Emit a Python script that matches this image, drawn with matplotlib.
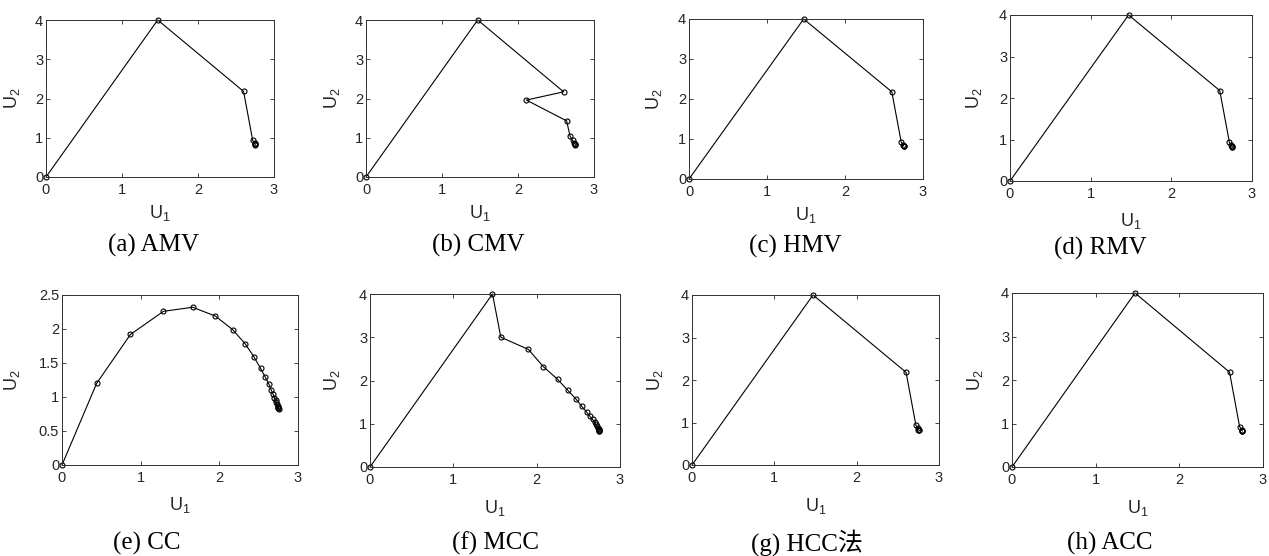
import matplotlib.pyplot as plt

plt.rcParams['font.family'] = ['Liberation Sans', 'DejaVu Sans']
plt.rcParams['mathtext.default'] = 'regular'

# shared trajectory (AMV, HMV, RMV, HCC, ACC)
u1_base = [0, 1.47, 2.60, 2.72, 2.745, 2.75, 2.752, 2.753]
u2_base = [0, 4.00, 2.18, 0.93, 0.86, 0.835, 0.830, 0.828]

# CMV
u1_cmv = [0, 1.47, 2.60, 2.11, 2.64, 2.685, 2.72, 2.74, 2.748, 2.752, 2.753]
u2_cmv = [0, 4.00, 2.17, 1.96, 1.43, 1.04, 0.93, 0.87, 0.845, 0.833, 0.828]

# CC
u1_cc = [0, 0.44, 0.87, 1.29, 1.66, 1.95, 2.17, 2.33, 2.44, 2.525, 2.585, 2.63,
         2.66, 2.685, 2.70, 2.715, 2.725, 2.735, 2.74, 2.745, 2.75, 2.752, 2.753]
u2_cc = [0, 1.20, 1.92, 2.26, 2.32, 2.19, 1.99, 1.78, 1.59, 1.42, 1.29, 1.19,
         1.10, 1.04, 0.99, 0.95, 0.92, 0.89, 0.87, 0.855, 0.84, 0.833, 0.828]

# MCC
u1_mcc = [0, 1.47, 1.57, 1.90, 2.08, 2.25, 2.37, 2.47, 2.54, 2.60, 2.64, 2.67,
          2.695, 2.71, 2.725, 2.735, 2.742, 2.747, 2.75, 2.752, 2.753]
u2_mcc = [0, 4.00, 3.00, 2.72, 2.32, 2.03, 1.78, 1.575, 1.405, 1.27, 1.17, 1.10,
          1.04, 0.99, 0.95, 0.91, 0.88, 0.86, 0.845, 0.835, 0.828]

captions = ['(a) AMV', '(b) CMV', '(c) HMV', '(d) RMV',
            '(e) CC', '(f) MCC', '(g) HCC法', '(h) ACC']
series = [(u1_base, u2_base), (u1_cmv, u2_cmv), (u1_base, u2_base), (u1_base, u2_base),
          (u1_cc, u2_cc), (u1_mcc, u2_mcc), (u1_base, u2_base), (u1_base, u2_base)]

W, H = 1269, 556
# axes boxes in pixels: left, right, top, bottom
boxes = [(46, 274, 20, 177), (366, 594, 20, 177), (689, 923, 19, 179), (1010, 1252, 15, 181),
         (62, 298, 295, 465), (370, 620, 294, 467), (692, 939, 295, 465), (1012, 1263, 293, 467)]
# label positions in pixels: ylabel right edge x, xlabel top y
ylab_x = [22, 342, 664, 984, 22, 342, 665, 985]
xlab_y = [203, 203, 205, 211, 495, 498, 496, 498]
# caption centres in pixels
cap_pos = [(153, 245), (478, 245), (795, 246), (1100, 248),
           (147, 543), (495, 543), (807, 543), (1110, 543)]

fig = plt.figure(figsize=(W / 100, H / 100), dpi=100)

for i in range(8):
    l, r, t, b = boxes[i]
    ax = fig.add_axes([l / W, 1 - b / H, (r - l) / W, (b - t) / H])
    u1, u2 = series[i]
    ax.plot(u1, u2, '-o', color='black', lw=0.8, markersize=3.6,
            markerfacecolor='none', markeredgewidth=0.8, clip_on=False)
    ax.set_xlim(0, 3)
    ax.set_xticks([0, 1, 2, 3])
    if i == 4:
        ax.set_ylim(0, 2.5)
        ax.set_yticks([0, 0.5, 1, 1.5, 2, 2.5])
        ax.set_yticklabels(['0', '0.5', '1', '1.5', '2', '2.5'])
    else:
        ax.set_ylim(0, 4)
        ax.set_yticks([0, 1, 2, 3, 4])
    ax.tick_params(direction='in', length=3, width=0.6, top=True, right=True,
                   labelsize=10.5, colors='#262626', pad=2)
    ax.tick_params(axis='x', pad=4)
    for s in ax.spines.values():
        s.set_color('#303030')
        s.set_linewidth(0.7)
    ax.set_xlabel('U$_1$', fontsize=13, color='#262626')
    ax.set_ylabel('U$_2$', fontsize=13, color='#262626')
    ax.xaxis.set_label_coords(0.5, (b - xlab_y[i]) / (b - t))
    ax.yaxis.set_label_coords((ylab_x[i] - l) / (r - l), 0.5)
    cx, cy = cap_pos[i]
    fig.text(cx / W, 1 - cy / H, captions[i], ha='center', va='center', fontsize=18,
             family=['Liberation Serif', 'Noto Sans CJK SC'])

fig.savefig('out.png', dpi=100)
